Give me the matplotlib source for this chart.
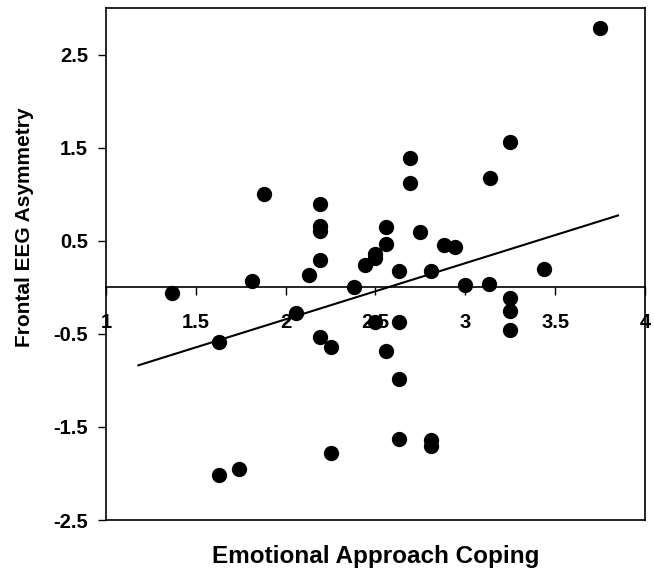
import matplotlib
matplotlib.use('Agg')
import matplotlib.pyplot as plt

# dados
coping = [1.37, 1.63, 1.63, 1.74, 1.81, 1.88, 2.06, 2.13, 2.19, 2.19, 2.19,
          2.19, 2.19, 2.25, 2.25, 2.38, 2.44, 2.50, 2.50, 2.50, 2.56, 2.56,
          2.56, 2.63, 2.63, 2.63, 2.63, 2.69, 2.69, 2.75, 2.81, 2.81, 2.81,
          2.88, 2.94, 3.00, 3.13, 3.14, 3.25, 3.25, 3.25, 3.25, 3.44, 3.75]
asymmetry = [-0.06, -0.59, -2.02, -1.95, 0.07, 1.00, -0.28, 0.13, 0.89, 0.66,
             0.60, 0.29, -0.53, -0.64, -1.78, 0.00, 0.24, 0.31, 0.36, -0.37,
             0.65, 0.47, -0.68, 0.17, -0.37, -0.99, -1.63, 1.39, 1.12, 0.59,
             0.18, -1.64, -1.71, 0.45, 0.43, 0.02, 0.04, 1.17, 1.56, -0.12,
             -0.26, -0.46, 0.20, 2.79]

# linha de tendência
trend_x = [1.18, 3.85]
trend_slope = 0.603
trend_intercept = -1.55

x_ticks = [1, 1.5, 2, 2.5, 3, 3.5, 4]
x_tick_labels = ['1', '1.5', '2', '2.5', '3', '3.5', '4']
y_ticks = [2.5, 1.5, 0.5, -0.5, -1.5, -2.5]
y_tick_labels = ['2.5', '1.5', '0.5', '-0.5', '-1.5', '-2.5']

plt.rcParams['font.family'] = ['Liberation Sans', 'DejaVu Sans']
plt.rcParams['font.weight'] = 'bold'

fig = plt.figure(figsize=(6.54, 5.70), dpi=100)
ax = fig.add_axes([0.1621, 0.0877, 0.8241, 0.8983])

ax.scatter(coping, asymmetry, s=100, color='black', zorder=3)
trend_y = [trend_slope * v + trend_intercept for v in trend_x]
ax.plot(trend_x, trend_y, color='black', linewidth=1.5, zorder=2)

ax.set_xlim(1, 4)
ax.set_ylim(-2.5, 3.0)

# eixo x passando pelo zero
ax.spines['bottom'].set_position(('data', 0))
ax.plot([0, 1], [0, 0], transform=ax.transAxes, color='black',
        linewidth=1.2, clip_on=False)
for s in ax.spines.values():
    s.set_linewidth(1.2)

ax.set_xticks(x_ticks)
ax.set_xticklabels(x_tick_labels, fontsize=14.5, fontweight='bold')
ax.set_yticks(y_ticks)
ax.set_yticklabels(y_tick_labels, fontsize=14.5, fontweight='bold')
ax.tick_params(axis='x', direction='out', length=6, width=1, pad=12.5)
ax.tick_params(axis='y', direction='out', length=6, width=1, pad=7)

ax.set_xlabel('Emotional Approach Coping', fontsize=17.5, fontweight='bold')
ax.xaxis.set_label_coords(0.5, -0.048)
ax.set_ylabel('Frontal EEG Asymmetry', fontsize=15, fontweight='bold')
ax.yaxis.set_label_coords(-0.152, 0.572)
ax.yaxis.label.set_va('center')

fig.savefig('out.png', dpi=100)
